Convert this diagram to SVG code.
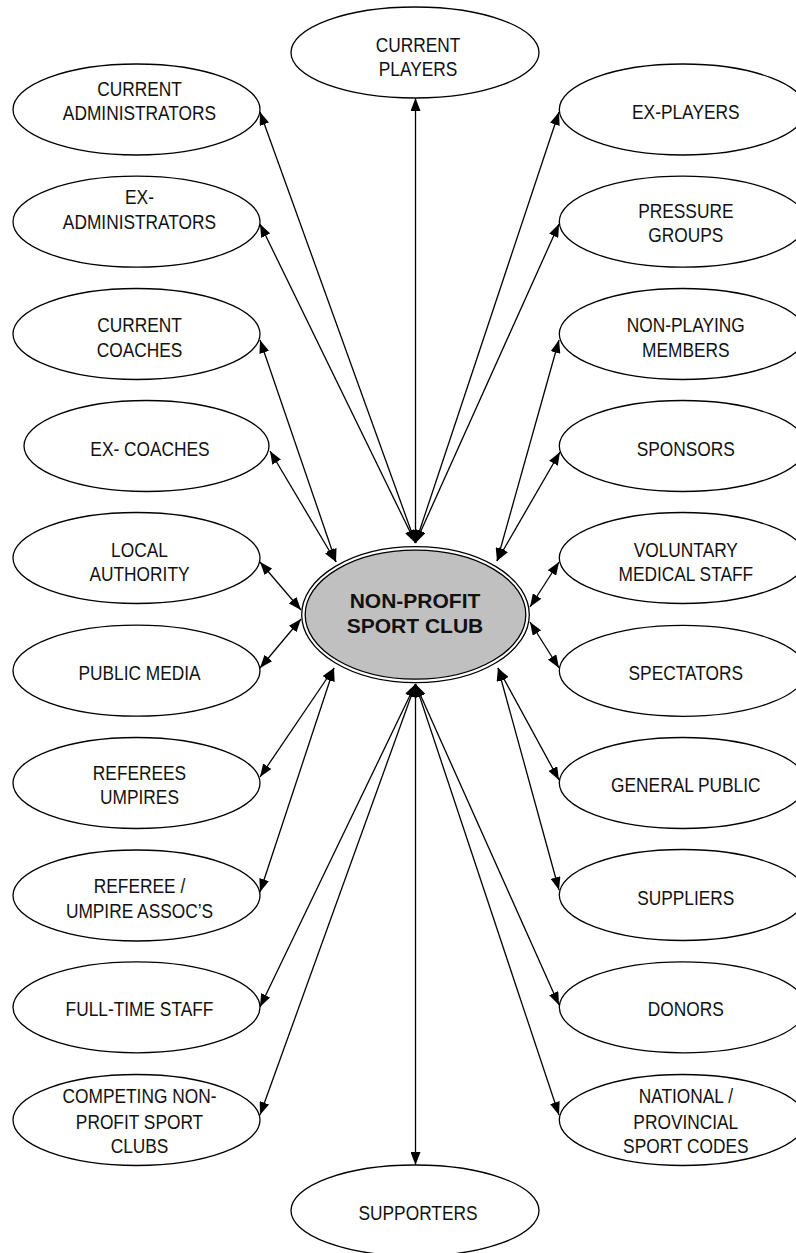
<svg xmlns="http://www.w3.org/2000/svg" width="796" height="1253" viewBox="0 0 796 1253">
<style>
.n{fill:#fff;stroke:#000;stroke-width:1.3}
.t{font-family:"Liberation Sans",Arial,sans-serif;font-size:20.5px;fill:#111;text-anchor:middle}
.c{stroke:#000;stroke-width:1.3;fill:none;marker-start:url(#ah);marker-end:url(#ah)}
.b{font-family:"Liberation Sans",Arial,sans-serif;font-size:21px;font-weight:bold;fill:#111;text-anchor:middle}
</style>
<defs>
<marker id="ah" viewBox="0 0 13 10" refX="13" refY="5" markerWidth="13" markerHeight="10" markerUnits="userSpaceOnUse" orient="auto-start-reverse"><path d="M0,0 L13,5 L0,10 z" fill="#000"/></marker>
</defs>
<rect width="796" height="1253" fill="#fff"/>
<g id="connectors">
<line class="c" x1="415.5" y1="98" x2="415.5" y2="543"/>
<line class="c" x1="260" y1="112" x2="415.5" y2="543"/>
<line class="c" x1="260" y1="224" x2="415.5" y2="543"/>
<line class="c" x1="559" y1="112" x2="415.5" y2="543"/>
<line class="c" x1="559" y1="224" x2="415.5" y2="543"/>
<line class="c" x1="260" y1="340" x2="336" y2="562"/>
<line class="c" x1="270" y1="451" x2="336" y2="562"/>
<line class="c" x1="559" y1="340" x2="497" y2="561"/>
<line class="c" x1="560" y1="452" x2="497" y2="561"/>
<line class="c" x1="260" y1="562" x2="301" y2="610"/>
<line class="c" x1="260" y1="668" x2="301" y2="619"/>
<line class="c" x1="559" y1="562" x2="530" y2="607"/>
<line class="c" x1="559" y1="668" x2="530" y2="622"/>
<line class="c" x1="260" y1="777" x2="334" y2="668"/>
<line class="c" x1="260" y1="892" x2="334" y2="668"/>
<line class="c" x1="559" y1="780" x2="498" y2="668"/>
<line class="c" x1="559" y1="890" x2="498" y2="668"/>
<line class="c" x1="415.5" y1="1165" x2="415.5" y2="684"/>
<line class="c" x1="260" y1="1007" x2="415.5" y2="684"/>
<line class="c" x1="260" y1="1115" x2="415.5" y2="684"/>
<line class="c" x1="559" y1="1005" x2="415.5" y2="684"/>
<line class="c" x1="559" y1="1115" x2="415.5" y2="684"/>
</g>
<g id="center">
<ellipse cx="415.5" cy="614.7" rx="113.8" ry="68" fill="#fff" stroke="#000" stroke-width="1.3"/>
<ellipse cx="415.5" cy="614.7" rx="110.3" ry="64.5" fill="#c0c0c0" stroke="#000" stroke-width="1.3"/>
<text class="b"><tspan x="415" y="608.3">NON-PROFIT</tspan><tspan x="415" y="633.3">SPORT CLUB</tspan></text>
</g>
<g id="current-players"><ellipse class="n" cx="415" cy="52.5" rx="124" ry="45.5"/>
<text class="t" transform="translate(418 51.7) scale(0.845 1)"><tspan x="0" y="0">CURRENT</tspan><tspan x="0" y="24.3">PLAYERS</tspan></text></g>
<g id="supporters"><ellipse class="n" cx="415" cy="1210.5" rx="124" ry="45.5"/>
<text class="t" transform="translate(418 1220) scale(0.845 1)">SUPPORTERS</text></g>

<g id="current-administrators"><ellipse class="n" cx="136.5" cy="109.5" rx="123.5" ry="45.5"/>
<text class="t" transform="translate(139.5 95.7) scale(0.845 1)"><tspan x="0" y="0">CURRENT</tspan><tspan x="0" y="24.3">ADMINISTRATORS</tspan></text></g>
<g id="ex-administrators"><ellipse class="n" cx="136.5" cy="221.7" rx="123.5" ry="45.5"/>
<text class="t" transform="translate(139.5 204) scale(0.845 1)"><tspan x="0" y="0">EX-</tspan><tspan x="0" y="25.3">ADMINISTRATORS</tspan></text></g>
<g id="current-coaches"><ellipse class="n" cx="136.5" cy="334" rx="123.5" ry="45.5"/>
<text class="t" transform="translate(139.5 332.3) scale(0.845 1)"><tspan x="0" y="0">CURRENT</tspan><tspan x="0" y="24.4">COACHES</tspan></text></g>
<g id="ex-coaches"><ellipse class="n" cx="146.5" cy="446" rx="122.5" ry="45.5"/>
<text class="t" transform="translate(150 455.7) scale(0.845 1)">EX- COACHES</text></g>
<g id="local-authority"><ellipse class="n" cx="136.5" cy="558" rx="123.5" ry="45.5"/>
<text class="t" transform="translate(139.5 556.7) scale(0.845 1)"><tspan x="0" y="0">LOCAL</tspan><tspan x="0" y="24.3">AUTHORITY</tspan></text></g>
<g id="public-media"><ellipse class="n" cx="136.5" cy="670.7" rx="123.5" ry="45.5"/>
<text class="t" transform="translate(139.5 680) scale(0.845 1)">PUBLIC MEDIA</text></g>
<g id="referees-umpires"><ellipse class="n" cx="136.5" cy="783" rx="123.5" ry="45.5"/>
<text class="t" transform="translate(139.5 780) scale(0.845 1)"><tspan x="0" y="0">REFEREES</tspan><tspan x="0" y="24">UMPIRES</tspan></text></g>
<g id="referee-umpire-assocs"><ellipse class="n" cx="136.5" cy="895.5" rx="123.5" ry="45.5"/>
<text class="t" transform="translate(139.5 893.3) scale(0.845 1)"><tspan x="0" y="0">REFEREE /</tspan><tspan x="0" y="25">UMPIRE ASSOC’S</tspan></text></g>
<g id="full-time-staff"><ellipse class="n" cx="136.5" cy="1007.3" rx="123.5" ry="45.5"/>
<text class="t" transform="translate(139.5 1015.7) scale(0.845 1)">FULL-TIME STAFF</text></g>
<g id="competing-clubs"><ellipse class="n" cx="136.5" cy="1120" rx="123.5" ry="45.5"/>
<text class="t" transform="translate(139.5 1103.3) scale(0.845 1)"><tspan x="0" y="0">COMPETING NON-</tspan><tspan x="0" y="25.7">PROFIT SPORT</tspan><tspan x="0" y="50">CLUBS</tspan></text></g>

<g id="ex-players"><ellipse class="n" cx="682.8" cy="109.5" rx="123.5" ry="45.5"/>
<text class="t" transform="translate(685.8 119) scale(0.845 1)">EX-PLAYERS</text></g>
<g id="pressure-groups"><ellipse class="n" cx="682.8" cy="221.7" rx="123.5" ry="45.5"/>
<text class="t" transform="translate(685.8 217.7) scale(0.845 1)"><tspan x="0" y="0">PRESSURE</tspan><tspan x="0" y="24.6">GROUPS</tspan></text></g>
<g id="non-playing-members"><ellipse class="n" cx="682.8" cy="334" rx="123.5" ry="45.5"/>
<text class="t" transform="translate(685.8 331.7) scale(0.845 1)"><tspan x="0" y="0">NON-PLAYING</tspan><tspan x="0" y="25">MEMBERS</tspan></text></g>
<g id="sponsors"><ellipse class="n" cx="682.8" cy="446" rx="123.5" ry="45.5"/>
<text class="t" transform="translate(685.8 455.7) scale(0.845 1)">SPONSORS</text></g>
<g id="voluntary-medical-staff"><ellipse class="n" cx="682.8" cy="558" rx="123.5" ry="45.5"/>
<text class="t" transform="translate(685.8 556.7) scale(0.845 1)"><tspan x="0" y="0">VOLUNTARY</tspan><tspan x="0" y="24.3">MEDICAL STAFF</tspan></text></g>
<g id="spectators"><ellipse class="n" cx="682.8" cy="670.8" rx="123.5" ry="45.5"/>
<text class="t" transform="translate(685.8 680) scale(0.845 1)">SPECTATORS</text></g>
<g id="general-public"><ellipse class="n" cx="682.8" cy="783" rx="123.5" ry="45.5"/>
<text class="t" transform="translate(685.8 792.3) scale(0.845 1)">GENERAL PUBLIC</text></g>
<g id="suppliers"><ellipse class="n" cx="682.8" cy="895" rx="123.5" ry="45.5"/>
<text class="t" transform="translate(685.8 905) scale(0.845 1)">SUPPLIERS</text></g>
<g id="donors"><ellipse class="n" cx="682.8" cy="1007.3" rx="123.5" ry="45.5"/>
<text class="t" transform="translate(685.8 1015.7) scale(0.845 1)">DONORS</text></g>
<g id="national-provincial-sport-codes"><ellipse class="n" cx="682.8" cy="1120" rx="123.5" ry="45.5"/>
<text class="t" transform="translate(685.8 1103) scale(0.845 1)"><tspan x="0" y="0">NATIONAL /</tspan><tspan x="0" y="26">PROVINCIAL</tspan><tspan x="0" y="50">SPORT CODES</tspan></text></g>
</svg>
